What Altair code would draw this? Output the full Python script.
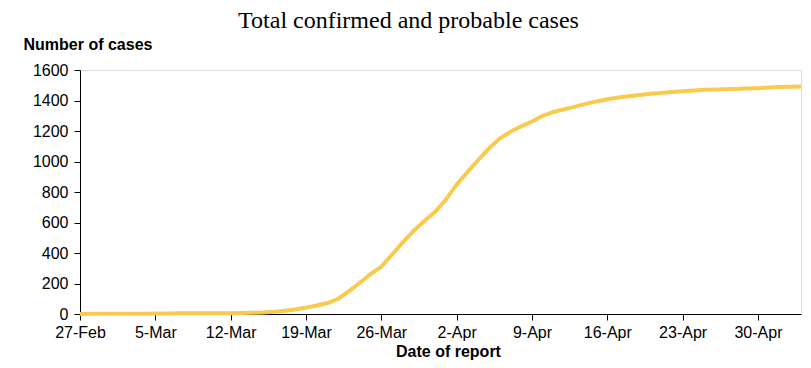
import altair as alt
import pandas as pd

dates = pd.date_range("2020-02-27", "2020-05-04", freq="D").strftime("%Y-%m-%d").tolist()
cases = [0, 1, 1, 1, 1, 1, 2, 3, 4, 5,
         5, 5, 5, 5, 5, 6, 8, 10, 14, 22,
         30, 42, 56, 72, 100, 150, 205, 262, 310, 390,
         470, 545, 610, 670, 750, 850, 930, 1010, 1085, 1150,
         1195, 1230, 1262, 1300, 1325, 1343, 1360, 1378, 1394, 1408,
         1420, 1428, 1436, 1444, 1450, 1455, 1460, 1466, 1471, 1472,
         1474, 1476, 1478, 1481, 1485, 1488, 1490, 1492]
tick_dates = [(2, 27), (3, 5), (3, 12), (3, 19), (3, 26), (4, 2), (4, 9), (4, 16), (4, 23), (4, 30)]
y_ticks = [0, 200, 400, 600, 800, 1000, 1200, 1400, 1600]

df = pd.DataFrame({"date": dates, "cases": cases})

tick_vals = [alt.DateTime(year=2020, month=m, date=d, utc=True) for m, d in tick_dates]

chart = alt.Chart(df).mark_line(color="#F8CB4E", strokeWidth=4, strokeCap="butt").encode(
    x=alt.X("date:T",
            scale=alt.Scale(type="utc",
                            domain=[alt.DateTime(year=2020, month=2, date=27, utc=True),
                                    alt.DateTime(year=2020, month=5, date=4, utc=True)]),
            axis=alt.Axis(values=tick_vals,
                          labelExpr="utcFormat(datum.value, '%-d-%b')",
                          title="Date of report",
                          titleFont="Liberation Sans", titleFontSize=16, titleFontWeight="bold",
                          titleColor="black", titleX=368, titleY=42, titleBaseline="alphabetic",
                          labelFont="Liberation Sans", labelFontSize=16, labelColor="black",
                          labelPadding=4, tickSize=6, tickColor="black", domainColor="black",
                          labelFlush=False, grid=False, labelOverlap=False)),
    y=alt.Y("cases:Q",
            scale=alt.Scale(domain=[0, 1600], nice=False),
            axis=alt.Axis(values=y_ticks, format="d", title="Number of cases",
                          titleAngle=0, titleAlign="left", titleBaseline="alphabetic",
                          titleX=-57, titleY=-21,
                          titleFont="Liberation Sans", titleFontSize=16, titleFontWeight="bold",
                          titleColor="black",
                          labelFont="Liberation Sans", labelFontSize=16, labelColor="black",
                          labelPadding=6, tickSize=6, tickColor="black", domainColor="black",
                          grid=False)),
).properties(
    width=721,
    height=244,
    title=alt.TitleParams("Total confirmed and probable cases", font="Liberation Serif",
                          fontSize=24, fontWeight="normal", color="black", dx=-32, offset=3),
    autosize=alt.AutoSizeParams(type="none"),
    padding={"left": 72, "top": 62, "right": 2, "bottom": 46},
).configure_view(stroke=None).configure(background="white")

chart.save("out.html", embed_options={"renderer": "svg", "actions": False})
